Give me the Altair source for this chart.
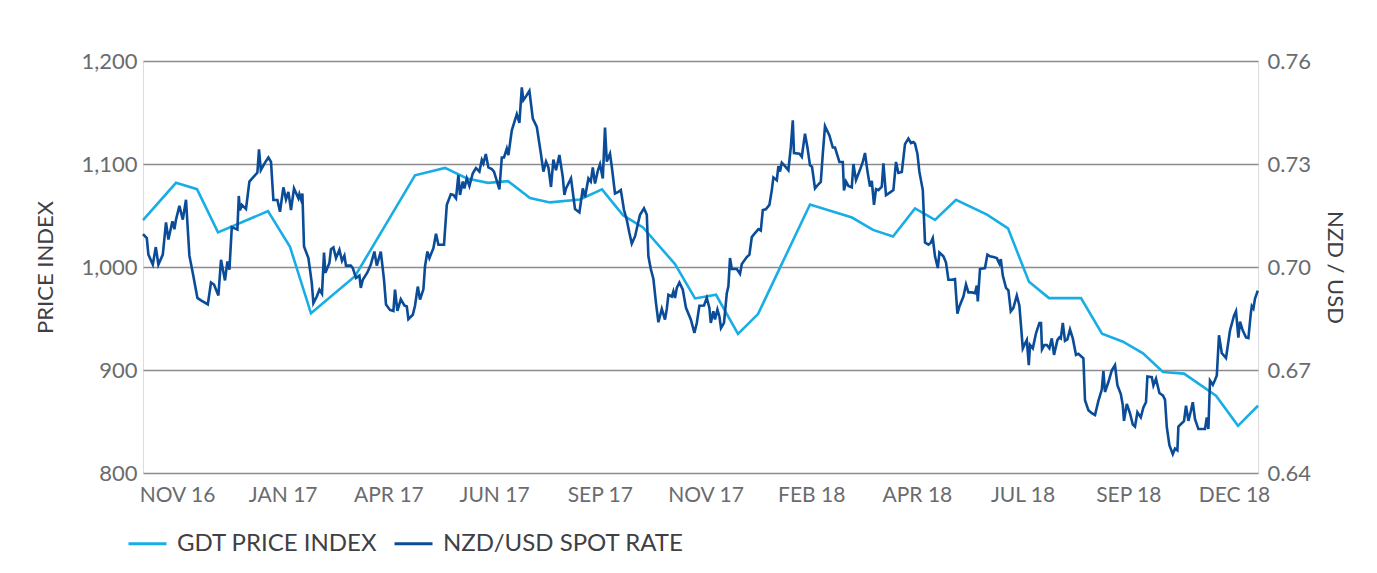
import altair as alt
import pandas as pd

# ---- data ----
series_names = ["GDT PRICE INDEX", "NZD/USD SPOT RATE"]
series_colors = ["#19ade6", "#0b4c98"]

x_tick_days = [17, 69.85, 122.7, 175.55, 228.4, 281.25, 334.1, 386.95, 439.8, 492.65, 545.5]
x_tick_labels = ["NOV 16", "JAN 17", "APR 17", "JUN 17", "SEP 17", "NOV 17",
                 "FEB 18", "APR 18", "JUL 18", "SEP 18", "DEC 18"]

left_ticks = [800, 900, 1000, 1100, 1200]
right_ticks = [0.64, 0.67, 0.70, 0.73, 0.76]

gdt_day = [0, 16.5, 27, 37.5, 62.5, 73.5, 84, 106, 136, 151, 162, 172.5, 182.5, 193.5,
           203.5, 218.5, 229.5, 240, 250, 266, 276, 286.5, 297.5, 307.5, 333.5, 354.5,
           365, 375, 386, 396, 406.5, 422, 432.5, 443, 453, 469, 479.5, 490, 500, 510,
           520.5, 536.5, 547.5, 557.5]
gdt_value = [1045.5, 1081.7, 1075.6, 1033.6, 1054.2, 1019.6, 955, 991, 1089, 1096.2, 1086,
             1081.7, 1083.3, 1067, 1062.7, 1065.5, 1075.3, 1050.3, 1038.4, 1002.8, 969.5,
             973, 935, 954.3, 1060.7, 1048, 1036, 1029.6, 1056.8, 1045.7, 1065.2, 1050.8,
             1037.5, 985.6, 969.8, 969.8, 935.3, 927.5, 916.2, 898, 896.5, 875, 845.8, 865.3]

nzd_day = [0, 1.9, 2.7, 4.9, 6.4, 7.7, 9.9, 11.5, 12.7, 14.7, 15.7, 16.5, 18.2, 19.9, 21.5,
           23.2, 25.2, 27.2, 29, 32.4, 34, 35.5, 37.7, 39, 41, 42.2, 43.2, 44.4, 47.2, 47.9,
           48.5, 49.4, 51.5, 53.2, 55.5, 57.2, 58, 58.9, 61, 62.7, 64, 65.2, 67.2, 68.5,
           70.2, 71.5, 72.7, 74, 75.5, 77.7, 78.2, 79, 79.7, 80.5, 82.7, 84.4, 85.2, 86.9,
           88.2, 89.5, 90.5, 91.2, 93.2, 94, 95.2, 96.5, 98.2, 99.5, 100.7, 101.5, 103.9,
           104.9, 106.5, 108.2, 108.9, 109.9, 112.2, 113.9, 115.7, 116.9, 118.9, 120.5,
           121.5, 123.5, 125.2, 126, 127.2, 128.9, 130.7, 131.9, 132.7, 134.9, 136, 137.4,
           138.5, 140.2, 141, 142.2, 143.2, 145.2, 146.5, 147.7, 150.5, 151.9, 153.9, 155.2,
           156.5, 157.7, 158.5, 159.9, 160.7, 161.9, 163.2, 164.9, 166.5, 168.2, 169.4,
           170.2, 171.4, 172.7, 174.4, 175.5, 178.2, 179.4, 180.5, 181.9, 182.7, 184.4,
           186.9, 188.2, 189.4, 190.2, 191.5, 193.2, 194.9, 196.9, 198.9, 200.2, 201.5,
           202.7, 204, 205.2, 206.5, 208.2, 209.9, 210.7, 211.5, 214, 216, 218.2, 219.9,
           221, 222.7, 223.9, 224.9, 226, 227.4, 228.5, 229.9, 231, 231.9, 233.5, 234.4,
           236, 237.7, 238.9, 240.5, 241.9, 243.2, 244.4, 246, 248.5, 250.5, 251.9, 252.7,
           253.9, 255.2, 256.5, 257.7, 259.4, 261, 261.9, 262.7, 264.4, 265.2, 266, 266.9,
           268.2, 269.9, 271.5, 273.9, 275.7, 276.9, 278.2, 280.5, 281.9, 283.2, 283.9,
           285.2, 286, 287.2, 288.2, 289, 290.5, 291.9, 292.7, 293.5, 294.4, 296.9, 298.5,
           299.4, 301.9, 303.2, 304.4, 306, 307.7, 308.9, 309.9, 311.4, 313.2, 314.4, 315.2,
           316.9, 317.7, 318.5, 319.4, 321, 322.7, 323.9, 324.9, 325.5, 328.2, 329.4, 331,
           332.2, 333.5, 334.5, 336, 337.7, 338.9, 339.9, 341, 343.2, 344.9, 346, 348.2,
           349.9, 350.5, 351.5, 352.7, 354.4, 355.2, 356.5, 358.5, 359.9, 361, 362.2, 363.5,
           364.4, 365.5, 366.5, 367.7, 369.4, 370.2, 371.5, 373.2, 375.2, 376.5, 377.7,
           379.4, 381, 382.7, 384, 385.2, 386, 387.2, 388.2, 389.9, 391, 392.7, 393.9, 394.9,
           396, 397.4, 398.2, 400.2, 401.5, 402.7, 404.4, 406, 407.2, 408.2, 410.2, 411.5,
           412.7, 414.4, 416, 416.9, 417.4, 418.5, 421, 422.2, 423.5, 425.2, 426.9, 428.2,
           428.9, 429.9, 431.5, 432.7, 433.9, 435.2, 436.9, 438.2, 439.9, 440.7, 441.9,
           442.9, 443.5, 444.9, 446.5, 448.2, 449, 449.5, 450.7, 451.9, 453.2, 454.4, 455.5,
           457.2, 458.2, 458.9, 459.9, 461, 462.2, 463.5, 464.9, 466.5, 467.7, 468.9, 470.2,
           471, 472.7, 474.4, 476, 477.7, 479.4, 480.2, 481, 482.7, 484.4, 486, 487.2, 488.9,
           489.9, 490.5, 491.9, 493.5, 494.9, 496, 497.2, 498.9, 500.2, 501.5, 502.2, 504.4,
           505.2, 506.5, 508.2, 509.9, 511, 511.9, 513.2, 514.9, 516, 517.2, 517.7, 519.4,
           520.5, 521.5, 522.7, 523.9, 524.9, 526, 527.7, 531, 531.9, 532.7, 533.5, 534.9,
           536, 536.9, 538, 539.4, 541.5, 543.5, 545.5, 546.5, 547.7, 548.5, 549.9, 551.5,
           552.7, 553.9, 554.4, 555.2, 556, 557.4]
nzd_rate = [0.7096, 0.7084, 0.7036, 0.7007, 0.7058, 0.7007, 0.7036, 0.7130, 0.7080, 0.7133,
            0.7110, 0.7138, 0.7178, 0.7138, 0.7196, 0.7033, 0.6973, 0.6910, 0.6903, 0.6891,
            0.6955, 0.6949, 0.6917, 0.7021, 0.6961, 0.7016, 0.6992, 0.7116, 0.7109, 0.7207,
            0.7165, 0.7181, 0.7169, 0.7249, 0.7264, 0.7275, 0.7343, 0.7282, 0.7304, 0.7319,
            0.7306, 0.7195, 0.7195, 0.7161, 0.7232, 0.7197, 0.7219, 0.7166, 0.7229, 0.7200,
            0.7212, 0.7197, 0.7214, 0.7060, 0.7026, 0.6953, 0.6895, 0.6914, 0.6934, 0.6922,
            0.7042, 0.6983, 0.7012, 0.7052, 0.7057, 0.7026, 0.7050, 0.7018, 0.7033, 0.7004,
            0.7004, 0.6997, 0.6968, 0.6975, 0.6939, 0.6963, 0.6984, 0.7007, 0.7045, 0.7004,
            0.7045, 0.6963, 0.6891, 0.6875, 0.6872, 0.6934, 0.6872, 0.6906, 0.6888, 0.6885,
            0.6848, 0.6861, 0.6887, 0.6943, 0.6905, 0.6935, 0.7002, 0.7045, 0.7026, 0.7055,
            0.7097, 0.7065, 0.7065, 0.7181, 0.7212, 0.7210, 0.7200, 0.7268, 0.7210, 0.7249,
            0.7229, 0.7258, 0.7236, 0.7273, 0.7288, 0.7278, 0.7312, 0.7302, 0.7329, 0.7290,
            0.7285, 0.7278, 0.7226, 0.7319, 0.7319, 0.7345, 0.7326, 0.7398, 0.7445, 0.7420,
            0.7523, 0.7486, 0.7497, 0.7513, 0.7432, 0.7408, 0.7332, 0.7278, 0.7307, 0.7290,
            0.7233, 0.7313, 0.7282, 0.7326, 0.7262, 0.7210, 0.7229, 0.7258, 0.7169, 0.7159,
            0.7229, 0.7203, 0.7258, 0.7249, 0.7290, 0.7243, 0.7280, 0.7299, 0.7258, 0.7406,
            0.7307, 0.7330, 0.7292, 0.7214, 0.7219, 0.7224, 0.7166, 0.7137, 0.7099, 0.7068,
            0.7089, 0.7152, 0.7171, 0.7152, 0.7031, 0.6994, 0.6965, 0.6895, 0.6839, 0.6878,
            0.6847, 0.6878, 0.6919, 0.6914, 0.6929, 0.6910, 0.6939, 0.6955, 0.6934, 0.6881,
            0.6847, 0.6808, 0.6837, 0.6887, 0.6888, 0.6910, 0.6881, 0.6837, 0.6871, 0.6847,
            0.6876, 0.6856, 0.6822, 0.6837, 0.6924, 0.6944, 0.7026, 0.6994, 0.6994, 0.6980,
            0.7009, 0.7029, 0.7036, 0.7087, 0.7099, 0.7110, 0.7106, 0.7166, 0.7168, 0.7181,
            0.7224, 0.7261, 0.7253, 0.7294, 0.7278, 0.7304, 0.7294, 0.7282, 0.7349, 0.7427,
            0.7332, 0.7330, 0.7321, 0.7388, 0.7349, 0.7296, 0.7292, 0.7229, 0.7241, 0.7248,
            0.7330, 0.7410, 0.7383, 0.7348, 0.7348, 0.7306, 0.7306, 0.7223, 0.7249, 0.7236,
            0.7232, 0.7300, 0.7253, 0.7283, 0.7306, 0.7332, 0.7280, 0.7234, 0.7251, 0.7181,
            0.7227, 0.7224, 0.7234, 0.7302, 0.7209, 0.7216, 0.7224, 0.7306, 0.7274, 0.7277,
            0.7358, 0.7374, 0.7361, 0.7364, 0.7359, 0.7330, 0.7277, 0.7224, 0.7071, 0.7065,
            0.7071, 0.7084, 0.7031, 0.6997, 0.7042, 0.7031, 0.7013, 0.6963, 0.6963, 0.6965,
            0.6864, 0.6885, 0.6914, 0.6949, 0.6926, 0.6926, 0.6924, 0.6946, 0.6900, 0.6994,
            0.6997, 0.7036, 0.7031, 0.7029, 0.7026, 0.7010, 0.7023, 0.6975, 0.6939, 0.6932,
            0.6871, 0.6881, 0.6917, 0.6887, 0.6763, 0.6773, 0.6787, 0.6714, 0.6773, 0.6763,
            0.6807, 0.6837, 0.6837, 0.6760, 0.6773, 0.6773, 0.6763, 0.6792, 0.6744, 0.6787,
            0.6795, 0.6792, 0.6837, 0.6785, 0.6789, 0.6818, 0.6792, 0.6744, 0.6747, 0.6741,
            0.6734, 0.6612, 0.6583, 0.6574, 0.6569, 0.6610, 0.6643, 0.6697, 0.6636, 0.6665,
            0.6699, 0.6714, 0.6656, 0.6630, 0.6597, 0.6552, 0.6601, 0.6574, 0.6541, 0.6535,
            0.6577, 0.6562, 0.6591, 0.6606, 0.6681, 0.6679, 0.6655, 0.6675, 0.6633, 0.6626,
            0.6614, 0.6534, 0.6481, 0.6455, 0.6471, 0.6466, 0.6535, 0.6545, 0.6551, 0.6596,
            0.6552, 0.6580, 0.6606, 0.6557, 0.6528, 0.6528, 0.6562, 0.6528, 0.6669, 0.6657,
            0.6671, 0.6684, 0.6801, 0.6749, 0.6735, 0.6815, 0.6858, 0.6871, 0.6794, 0.6841,
            0.6815, 0.6795, 0.6793, 0.6865, 0.6886, 0.6879, 0.6908, 0.6931]

gdt_df = pd.DataFrame({"day": gdt_day, "value": gdt_value, "series": series_names[0]})
nzd_df = pd.DataFrame({"day": nzd_day, "rate": nzd_rate, "series": series_names[1]})

FONT = "Lato"
LABEL_GRAY = "#6a6b6e"
TITLE_GRAY = "#3f4043"

label_js = "[" + ",".join("'%s'" % s for s in x_tick_labels) + "]"
step = (x_tick_days[-1] - x_tick_days[0]) / (len(x_tick_days) - 1)
label_expr = "%s[round((datum.value - %s) / %s)]" % (label_js, x_tick_days[0], step)

x_enc = alt.X(
    "day:Q",
    scale=alt.Scale(domain=[0, 557.5], nice=False, zero=False),
    axis=alt.Axis(values=x_tick_days, labelExpr=label_expr, title=None, grid=False,
                  domain=False, ticks=False, labelPadding=11, labelFontSize=21,
                  labelColor=LABEL_GRAY, labelFont=FONT, labelBaseline="top"),
)

color_enc = alt.Color(
    "series:N",
    scale=alt.Scale(domain=series_names, range=series_colors),
    legend=alt.Legend(orient="none", legendX=-16, legendY=462, direction="horizontal",
                      title=None, symbolType="stroke", symbolSize=1444, symbolStrokeWidth=3,
                      labelFontSize=24, labelFont=FONT, labelColor=TITLE_GRAY,
                      labelLimit=500, labelOffset=9, columnPadding=10, padding=0),
)

gdt = alt.Chart(gdt_df).mark_line(strokeWidth=2.6).encode(
    x=x_enc,
    y=alt.Y("value:Q",
            scale=alt.Scale(domain=[800, 1200], nice=False, zero=False),
            axis=alt.Axis(orient="left", values=left_ticks, format=",.0f", title="PRICE INDEX",
                          grid=True, gridColor="#8c8c8c", gridWidth=1.4, domain=False,
                          ticks=False, labelPadding=6, labelFontSize=22, labelColor=LABEL_GRAY,
                          labelFont=FONT, titleFont=FONT, titleFontSize=22,
                          titleFontWeight="normal", titleColor=TITLE_GRAY, titlePadding=23)),
    color=color_enc,
)

nzd = alt.Chart(nzd_df).mark_line(strokeWidth=2.6).encode(
    x=x_enc,
    y=alt.Y("rate:Q",
            scale=alt.Scale(domain=[0.64, 0.76], nice=False, zero=False),
            axis=alt.Axis(orient="right", values=right_ticks, format=".2f", title="NZD / USD",
                          grid=False, domain=False, ticks=False, labelPadding=9,
                          labelFontSize=22, labelColor=LABEL_GRAY, labelFont=FONT,
                          titleFont=FONT, titleFontSize=22, titleFontWeight="normal",
                          titleColor=TITLE_GRAY, titlePadding=12, titleAngle=90)),
    color=color_enc,
)

chart = (
    alt.layer(gdt, nzd)
    .resolve_scale(y="independent")
    .properties(width=1115, height=412,
                autosize=alt.AutoSizeParams(type="none"),
                padding={"left": 135, "top": 53, "right": 110, "bottom": 90})
    .configure_view(stroke=None)
    .configure(background="white")
)

chart.save("out.html", embed_options={"renderer": "svg", "actions": False})
